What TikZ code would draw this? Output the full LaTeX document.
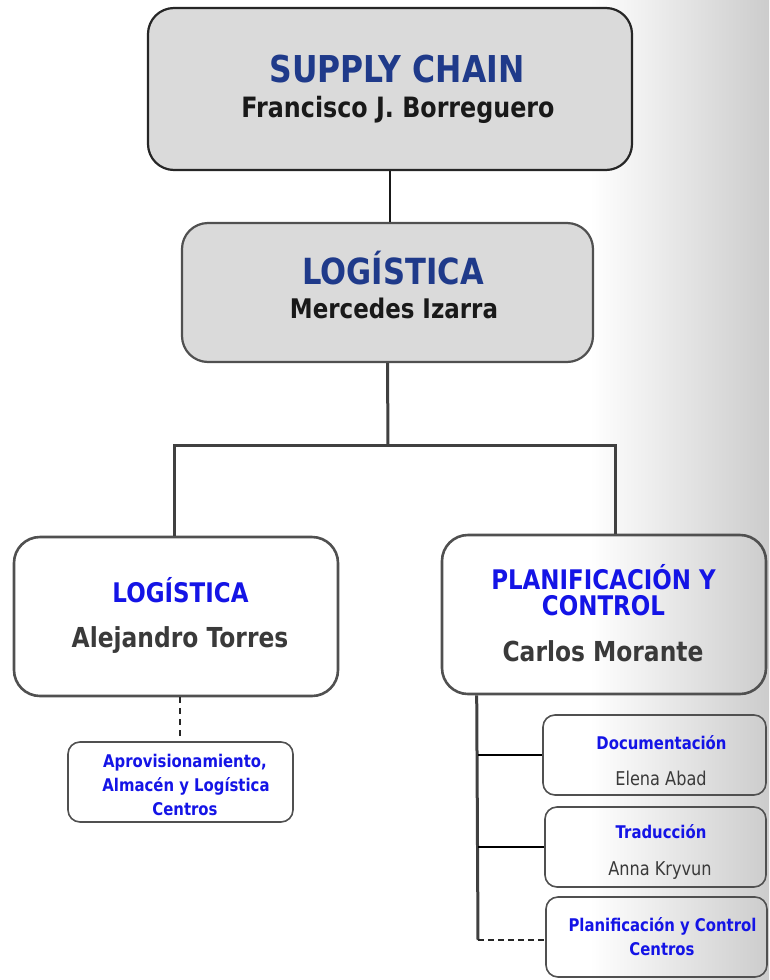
\documentclass[tikz,border=0pt]{standalone}
\usepackage{fontspec}
\setmainfont{DejaVu Sans}[FakeStretch=0.85]
\definecolor{navy}{HTML}{1F3A8A}
\definecolor{bblue}{HTML}{1414E6}
\definecolor{boxgray}{HTML}{DADADA}
\definecolor{edge}{HTML}{505050}
\definecolor{txtgray}{HTML}{3A3A3A}
\begin{document}
\begin{tikzpicture}[x=1pt,y=-1pt,
  bigbox/.style={draw=edge,rounded corners=26pt,inner sep=0pt,line width=2.2pt},
  smallbox/.style={draw=edge,rounded corners=12pt,inner sep=0pt,line width=1.6pt},
  conn/.style={draw=black!75,line width=3pt},
  thinconn/.style={draw=black,line width=1.8pt},
  dashconn/.style={draw=black!85,line width=2pt,dash pattern=on 6pt off 4pt},
  lbl/.style={anchor=base,inner sep=0pt},
  bigtitle/.style={lbl,font=\bfseries\fontsize{37}{40}\selectfont,text=navy},
  bigname/.style={lbl,font=\bfseries\fontsize{28}{30}\selectfont,text=black!90},
  midtitle/.style={lbl,font=\bfseries\fontsize{27}{30}\selectfont,text=bblue},
  midname/.style={lbl,font=\bfseries\fontsize{27.5}{30}\selectfont,text=txtgray},
  smalltitle/.style={lbl,font=\bfseries\fontsize{17.5}{19}\selectfont,text=bblue},
  smallname/.style={lbl,font=\fontsize{19}{21}\selectfont,text=txtgray}
]
\useasboundingbox (0,0) rectangle (769,980);
\shade[left color=white,right color=black!20] (590,0) rectangle (769,980);

% boxes
\node[bigbox,draw=black!85,fill=boxgray,minimum width=484pt,minimum height=162pt] (sc) at (390,89) {};
\node[bigbox,fill=boxgray,minimum width=411pt,minimum height=139pt] (lg) at (387.5,292.5) {};
\node[bigbox,line width=2.6pt,minimum width=324pt,minimum height=159pt] (lt) at (176,616.5) {};
\node[bigbox,line width=2.6pt,minimum width=324pt,minimum height=159pt] (pc) at (604,614.5) {};
\node[smallbox,minimum width=225pt,minimum height=80pt] (ap) at (180.5,782) {};
\node[smallbox,minimum width=223pt,minimum height=80pt] (doc) at (654.5,755) {};
\node[smallbox,minimum width=221pt,minimum height=80pt] (tr) at (655.5,847) {};
\node[smallbox,minimum width=221pt,minimum height=80pt] (pcc) at (656.5,937) {};

% texts
\node[bigtitle] (t1) at (397,82) {SUPPLY CHAIN};
\node[bigname] (t2) at (398,117) {Francisco J. Borreguero};
\node[bigtitle,font=\bfseries\fontsize{36}{40}\selectfont] (t3) at (393,284) {LOGÍSTICA};
\node[bigname,font=\bfseries\fontsize{27}{30}\selectfont] (t4) at (394,318) {Mercedes Izarra};
\node[midtitle] (t5) at (180.5,602) {LOGÍSTICA};
\node[midname] (t6) at (180,647) {Alejandro Torres};
\node[midtitle] (t7) at (603.5,589) {PLANIFICACIÓN Y};
\node[midtitle] (t8) at (603.5,615) {CONTROL};
\node[midname] (t9) at (603,661) {Carlos Morante};
\node[smalltitle] (t10) at (185,767) {Aprovisionamiento,};
\node[smalltitle] (t11) at (186,791) {Almacén y Logística};
\node[smalltitle] (t12) at (185,815) {Centros};
\node[smalltitle] (t13) at (661.5,749) {Documentación};
\node[smallname] (t14) at (661,785) {Elena Abad};
\node[smalltitle] (t15) at (661,838) {Traducción};
\node[smallname] (t16) at (660,875) {Anna Kryvun};
\node[smalltitle] (t17) at (662.5,931) {Planificación y Control};
\node[smalltitle] (t18) at (662,955) {Centros};

% connectors
\coordinate (jn) at (388,445);
\coordinate (rv) at (478,940);
\draw[conn,line width=2.2pt,draw=black!90] (sc.south) -- (sc.south |- lg.north);
\draw[conn] (lg.south) -- (jn);
\draw[conn] ([xshift=-2pt]lt.north) |- (jn) -| ([xshift=11pt]pc.north);
\draw[dashconn,dash pattern=on 6pt off 5pt] ([xshift=4pt]lt.south) -- ([xshift=4pt]lt.south |- ap.north);
\draw[conn] ([xshift=36pt]pc.south west) -- (rv);
\draw[thinconn] (doc.west -| rv) -- (doc.west);
\draw[thinconn] (tr.west -| rv) -- (tr.west);
\draw[dashconn] (rv) -- (rv -| pcc.west);
\end{tikzpicture}
\end{document}
